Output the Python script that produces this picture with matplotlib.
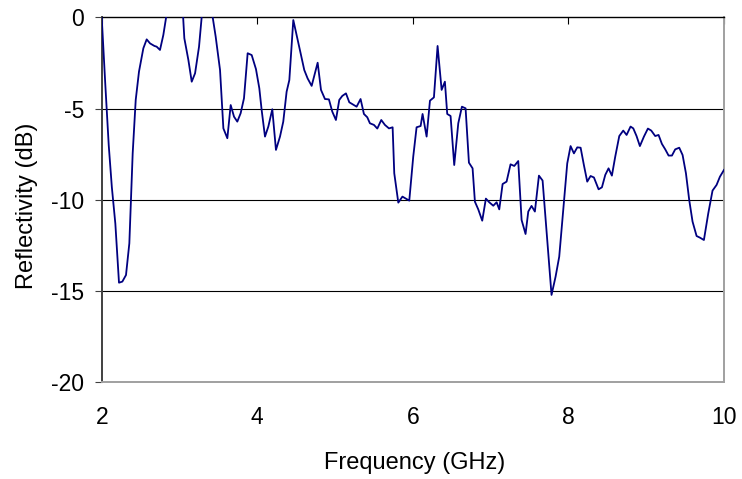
import matplotlib
matplotlib.use("Agg")
import matplotlib.pyplot as plt

plt.rcParams['font.family'] = ['Liberation Sans', 'DejaVu Sans']

# Measured reflectivity spectrum
freq_ghz = [
    2.000, 2.045, 2.090, 2.130, 2.175, 2.222, 2.265, 2.312, 2.355, 2.398,
    2.437, 2.479, 2.535, 2.578, 2.621, 2.677, 2.706, 2.749, 2.792, 2.835,
    2.880, 2.920, 2.965, 3.015, 3.062, 3.114, 3.157, 3.200, 3.251, 3.295,
    3.340, 3.380, 3.420, 3.465, 3.521, 3.564, 3.615, 3.658, 3.701, 3.743,
    3.786, 3.829, 3.876, 3.928, 3.983, 4.026, 4.056, 4.099, 4.142, 4.193,
    4.240, 4.292, 4.334, 4.377, 4.412, 4.463, 4.506, 4.557, 4.604, 4.647,
    4.699, 4.741, 4.776, 4.819, 4.870, 4.921, 4.964, 5.011, 5.054, 5.093,
    5.140, 5.183, 5.226, 5.277, 5.328, 5.371, 5.414, 5.448, 5.500, 5.543,
    5.594, 5.641, 5.693, 5.740, 5.761, 5.813, 5.866, 5.911, 5.954, 6.005,
    6.048, 6.100, 6.125, 6.177, 6.220, 6.271, 6.318, 6.370, 6.412, 6.442,
    6.485, 6.532, 6.584, 6.631, 6.678, 6.721, 6.768, 6.798, 6.841, 6.892,
    6.939, 6.982, 7.034, 7.077, 7.111, 7.154, 7.205, 7.256, 7.304, 7.355,
    7.398, 7.449, 7.484, 7.526, 7.569, 7.621, 7.668, 7.728, 7.783, 7.835,
    7.882, 7.933, 7.985, 8.028, 8.071, 8.114, 8.157, 8.199, 8.242, 8.285,
    8.328, 8.388, 8.431, 8.474, 8.516, 8.559, 8.602, 8.654, 8.705, 8.748,
    8.799, 8.834, 8.876, 8.919, 8.971, 9.022, 9.065, 9.116, 9.159, 9.202,
    9.245, 9.288, 9.331, 9.373, 9.425, 9.468, 9.511, 9.553, 9.596, 9.648,
    9.691, 9.742, 9.798, 9.853, 9.905, 9.948, 10.000,
]

reflectivity_db = [
    0.0, -3.6, -7.0, -9.3, -11.3, -14.54, -14.48, -14.12, -12.38, -7.45,
    -4.52, -2.97, -1.69, -1.20, -1.42, -1.56, -1.60, -1.78, -0.96, 0.2,
    1.5, 2.2, 2.5, 2.4, -1.14, -2.33, -3.52, -3.06, -1.60, 0.5,
    1.5, 1.3, 0.2, -1.05, -2.88, -6.08, -6.62, -4.80, -5.44, -5.71,
    -5.25, -4.43, -1.96, -2.06, -2.83, -3.88, -5.07, -6.53, -5.98, -5.03,
    -7.26, -6.53, -5.71, -4.07, -3.43, -0.14, -0.96, -1.96, -2.88, -3.34,
    -3.75, -3.06, -2.48, -3.97, -4.47, -4.49, -5.16, -5.62, -4.52, -4.30,
    -4.16, -4.65, -4.76, -4.89, -4.47, -5.29, -5.47, -5.80, -5.89, -6.09,
    -5.62, -5.89, -6.08, -6.02, -8.54, -10.15, -9.82, -9.93, -10.04, -7.63,
    -6.02, -5.95, -5.29, -6.53, -4.56, -4.38, -1.56, -3.97, -3.52, -5.29,
    -5.40, -8.09, -5.80, -4.89, -4.98, -7.96, -8.27, -10.10, -10.52, -11.14,
    -9.93, -10.13, -10.32, -10.13, -10.52, -9.13, -9.00, -8.05, -8.14, -7.87,
    -11.10, -11.87, -10.64, -10.33, -10.64, -8.67, -8.94, -12.20, -15.21, -14.21,
    -13.11, -10.55, -8.00, -7.05, -7.45, -7.12, -7.14, -8.09, -9.00, -8.69,
    -8.77, -9.42, -9.31, -8.63, -8.27, -8.67, -7.63, -6.50, -6.20, -6.44,
    -5.98, -6.08, -6.50, -7.05, -6.53, -6.09, -6.20, -6.50, -6.44, -6.93,
    -7.23, -7.57, -7.57, -7.23, -7.14, -7.54, -8.54, -10.00, -11.19, -11.98,
    -12.07, -12.20, -10.74, -9.49, -9.18, -8.73, -8.36,
]

x_ticks = [2, 4, 6, 8, 10]
y_ticks = [-20, -15, -10, -5, 0]

fig = plt.figure(figsize=(7.42, 4.79), dpi=100)
ax = fig.add_axes([0.1371, 0.2019, 0.8386, 0.7616])

# horizontal gridlines between the frame edges
for yv in y_ticks[1:-1]:
    ax.axhline(yv, color='black', lw=0.8, zorder=1)

ax.plot(freq_ghz, reflectivity_db, color='#000080', lw=1.3, zorder=3)

ax.set_xlim(2, 10)
ax.set_ylim(-20, 0)
ax.set_xticks(x_ticks)
ax.set_yticks(y_ticks)
ax.set_xticklabels([str(v) for v in x_ticks])
ax.set_yticklabels([str(v) for v in y_ticks])

# x axis line sits at 0 dB (top), labels kept low
ax.tick_params(axis='x', top=True, bottom=False, labeltop=False, labelbottom=True,
               direction='in', length=4.8, width=0.8, color='black',
               labelsize=16.5, pad=17)
ax.tick_params(axis='y', left=True, right=False, direction='out', length=4.8,
               width=0.8, color='#404040', labelsize=16.5, pad=8.0)

ax.spines['top'].set_color('black')
ax.spines['top'].set_linewidth(1.0)
ax.spines['left'].set_color('#404040')
ax.spines['left'].set_linewidth(1.4)
ax.spines['bottom'].set_color('#a0a0a0')
ax.spines['bottom'].set_linewidth(1.4)
ax.spines['right'].set_color('#a0a0a0')
ax.spines['right'].set_linewidth(1.4)

ax.set_xlabel('Frequency (GHz)', fontsize=17)
ax.set_ylabel('Reflectivity (dB)', fontsize=17)
ax.xaxis.set_label_coords(0.503, -0.19)
ax.yaxis.set_label_coords(-0.102, 0.483)

fig.savefig('out.png', dpi=100, facecolor='white')
